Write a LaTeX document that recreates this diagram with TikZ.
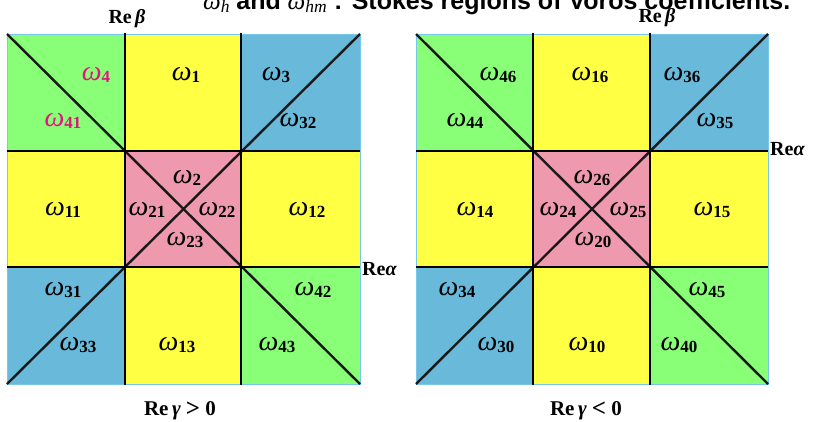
\documentclass[tikz,border=0pt]{standalone}
\usepackage{fontspec}
\setmainfont{Liberation Serif}
\newfontfamily\titlesans{Liberation Sans}
\definecolor{cgreen}{HTML}{88FF77}
\definecolor{cyellow}{HTML}{FFFF44}
\definecolor{cblue}{HTML}{68B9DA}
\definecolor{cpink}{HTML}{EE99AE}
\definecolor{cmag}{HTML}{E0157F}
\definecolor{cedge}{HTML}{77C8E8}
\newcommand\om[1]{{\fontsize{28}{28}\selectfont\textit{ω}}\raisebox{-0.2em}{\fontsize{17}{17}\selectfont\bfseries #1}}
\newcommand\bigrel[1]{\raisebox{-0.08em}{\fontsize{25}{25}\selectfont #1}}
\begin{document}
\begin{tikzpicture}[x=1pt,y=-1pt,
  cell/.style={draw=cedge,line width=0.8pt},
  gridline/.style={line width=2.8pt,black},
  diag/.style={line width=2.4pt,black!90},
  lab/.style={inner sep=0pt,anchor=center},
  axlab/.style={inner sep=0pt,font=\fontsize{20}{20}\selectfont\bfseries}]
\useasboundingbox (0,0) rectangle (814,421);
% ---------- left grid
\foreach \xa/\xb/\ya/\yb/\c in {7/125/34/151/cgreen,125/241/34/151/cyellow,241/360/34/151/cblue,
  7/125/151/267/cyellow,125/241/151/267/cpink,241/360/151/267/cyellow,
  7/125/267/384/cblue,125/241/267/384/cyellow,241/360/267/384/cgreen}
  {\fill[fill=\c,cell] (\xa,\ya) rectangle (\xb,\yb);}
\coordinate (LTL) at (7,34); \coordinate (LTR) at (360,34);
\coordinate (LBL) at (7,384); \coordinate (LBR) at (360,384);
\draw[diag] (LTL) -- (LBR);
\draw[diag] (LTR) -- (LBL);
\draw[gridline] (125,33) -- (125,385);
\draw[gridline] (241,33) -- (241,385);
\draw[gridline] (7,151) -- (360,151);
\draw[gridline] (7,267) -- (360,267);
% ---------- right grid
\foreach \xa/\xb/\ya/\yb/\c in {416/533/34/151/cgreen,533/650/34/151/cyellow,650/768/34/151/cblue,
  416/533/151/267/cyellow,533/650/151/267/cpink,650/768/151/267/cyellow,
  416/533/267/384/cblue,533/650/267/384/cyellow,650/768/267/384/cgreen}
  {\fill[fill=\c,cell] (\xa,\ya) rectangle (\xb,\yb);}
\coordinate (RTL) at (416,34); \coordinate (RTR) at (768,34);
\coordinate (RBL) at (416,384); \coordinate (RBR) at (768,384);
\draw[diag] (RTL) -- (RBR);
\draw[diag] (RTR) -- (RBL);
\draw[gridline] (533,33) -- (533,385);
\draw[gridline] (650,33) -- (650,385);
\draw[gridline] (416,151) -- (768,151);
\draw[gridline] (416,267) -- (768,267);
% ---------- left labels
\node[lab,text=cmag] (w4) at (96,75) {\om{4}};
\node[lab,text=cmag] (w41) at (63,121) {\om{41}};
\node[lab] (w1) at (186,75) {\om{1}};
\node[lab] (w3) at (276,75) {\om{3}};
\node[lab] (w32) at (298,121) {\om{32}};
\node[lab] (w2) at (187,178) {\om{2}};
\node[lab] (w21) at (147,210) {\om{21}};
\node[lab] (w22) at (217,210) {\om{22}};
\node[lab] (w23) at (185,240) {\om{23}};
\node[lab] (w11) at (63,210) {\om{11}};
\node[lab] (w12) at (307,210) {\om{12}};
\node[lab] (w31) at (63,290) {\om{31}};
\node[lab] (w42) at (313,290) {\om{42}};
\node[lab] (w33) at (78,345) {\om{33}};
\node[lab] (w13) at (177,345) {\om{13}};
\node[lab] (w43) at (277,345) {\om{43}};
% ---------- right labels
\node[lab] (w46) at (498,75) {\om{46}};
\node[lab] (w16) at (590,75) {\om{16}};
\node[lab] (w36) at (682,75) {\om{36}};
\node[lab] (w44) at (465,121) {\om{44}};
\node[lab] (w35) at (715,121) {\om{35}};
\node[lab] (w26) at (592,178) {\om{26}};
\node[lab] (w24) at (558,210) {\om{24}};
\node[lab] (w25) at (628,210) {\om{25}};
\node[lab] (w20) at (593,240) {\om{20}};
\node[lab] (w14) at (475,210) {\om{14}};
\node[lab] (w15) at (712,210) {\om{15}};
\node[lab] (w34) at (457,290) {\om{34}};
\node[lab] (w45) at (707,290) {\om{45}};
\node[lab] (w30) at (496,345) {\om{30}};
\node[lab] (w10) at (587,345) {\om{10}};
\node[lab] (w40) at (679,345) {\om{40}};
% ---------- axis labels
\node[axlab,anchor=base] (bl) at (127,23) {Re\,\textit{β}};
\node[axlab,anchor=base] (br) at (657,22) {Re\,\textit{β}};
\node[axlab,anchor=west] (al) at (362,269) {Re\textit{α}};
\node[axlab,anchor=west] (ar) at (770,149) {Re\textit{α}};
\node[axlab,anchor=base,font=\fontsize{21}{21}\selectfont\bfseries] (gl) at (180,415) {Re\,\textit{γ} \bigrel{\textgreater} 0};
\node[axlab,anchor=base,font=\fontsize{21}{21}\selectfont\bfseries] (gr) at (586,415) {Re\,\textit{γ} \bigrel{\textless} 0};
% ---------- title (cut by page top)
\node[inner sep=0pt,anchor=base west] (title) at (203,9)
  {\fontsize{25}{25}\selectfont{\textit{ω\textsubscript{h}}} \titlesans\bfseries and {\rmfamily\mdseries\textit{ω\textsubscript{hm}}} : Stokes regions of Voros coefficients.};
\end{tikzpicture}
\end{document}
